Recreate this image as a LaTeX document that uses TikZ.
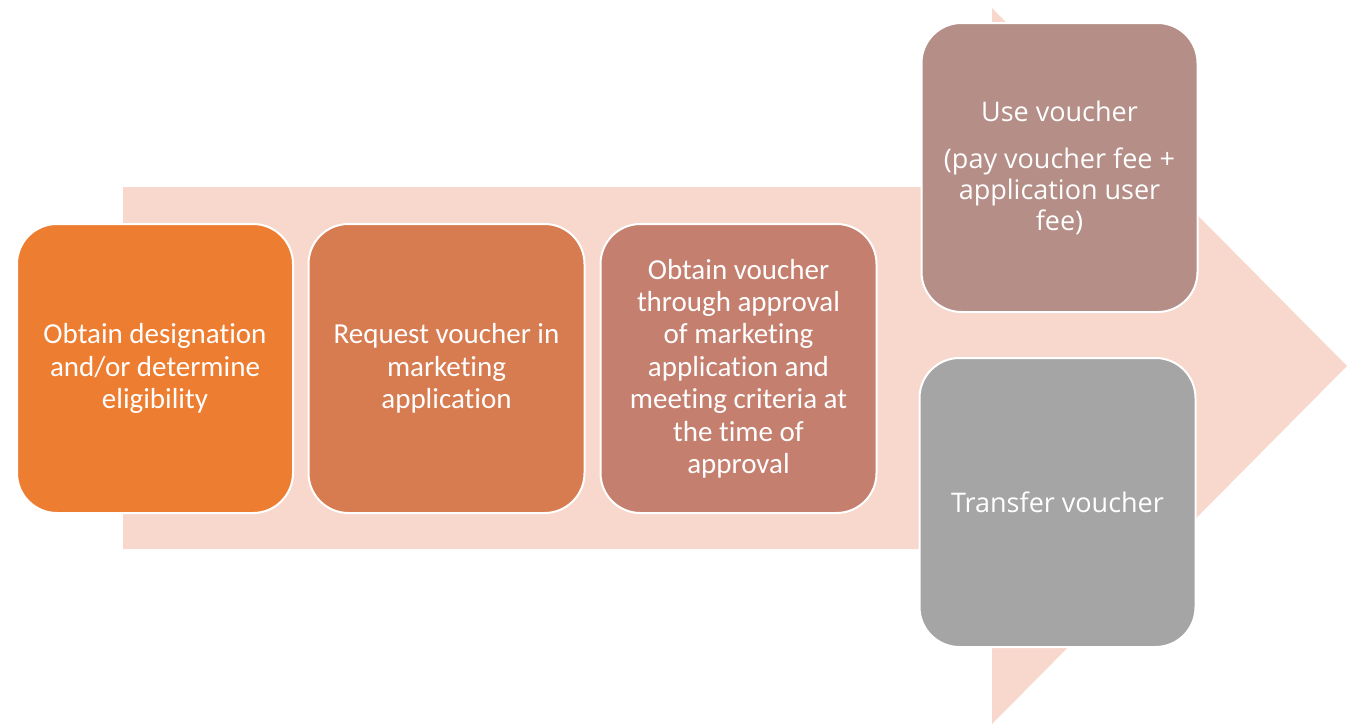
\documentclass[tikz,border=0pt]{standalone}
\usepackage{fontspec}
\setmainfont[Ligatures=NoCommon]{Carlito}
\newfontfamily\opensans{Open Sans}
\definecolor{arrowc}{HTML}{F8D8CD}
\definecolor{cA}{HTML}{ED7D31}
\definecolor{cB}{HTML}{D77B51}
\definecolor{cC}{HTML}{C47F6F}
\definecolor{cD}{HTML}{B48E87}
\definecolor{cE}{HTML}{A5A5A5}
\tikzset{
  stepbox/.style={draw=white, line width=2pt, rounded corners=40pt, inner sep=0pt,
    minimum width=276pt, minimum height=289pt, text=white, align=center,
    font=\fontsize{29}{32.4}\selectfont},
  sidebox/.style={stepbox, font=\opensans\fontsize{27}{31}\selectfont}
}
\begin{document}
\begin{tikzpicture}[x=1pt,y=-1pt]
\useasboundingbox (0,0) rectangle (1347,728);
\fill[arrowc] (123,187) -- (992,187) -- (992,8) -- (1347,366) -- (992,724) -- (992,549) -- (123,549) -- cycle;
\node[stepbox, fill=cA] (b1) at (155,368.5) {Obtain designation\\and/or determine\\eligibility};
\node[stepbox, fill=cB] (b2) at (446.5,368.5) {Request voucher in\\marketing\\application};
\node[stepbox, fill=cC] (b3) at (738.5,368.5) {Obtain voucher\\through approval\\of marketing\\application and\\meeting criteria at\\the time of\\approval};
\node[sidebox, fill=cD] (b4) at (1059.5,167.5) {Use voucher\\[16pt](pay voucher fee +\\application user\\fee)};
\node[sidebox, fill=cE] (b5) at (1057.5,502.5) {Transfer voucher};
\end{tikzpicture}
\end{document}
